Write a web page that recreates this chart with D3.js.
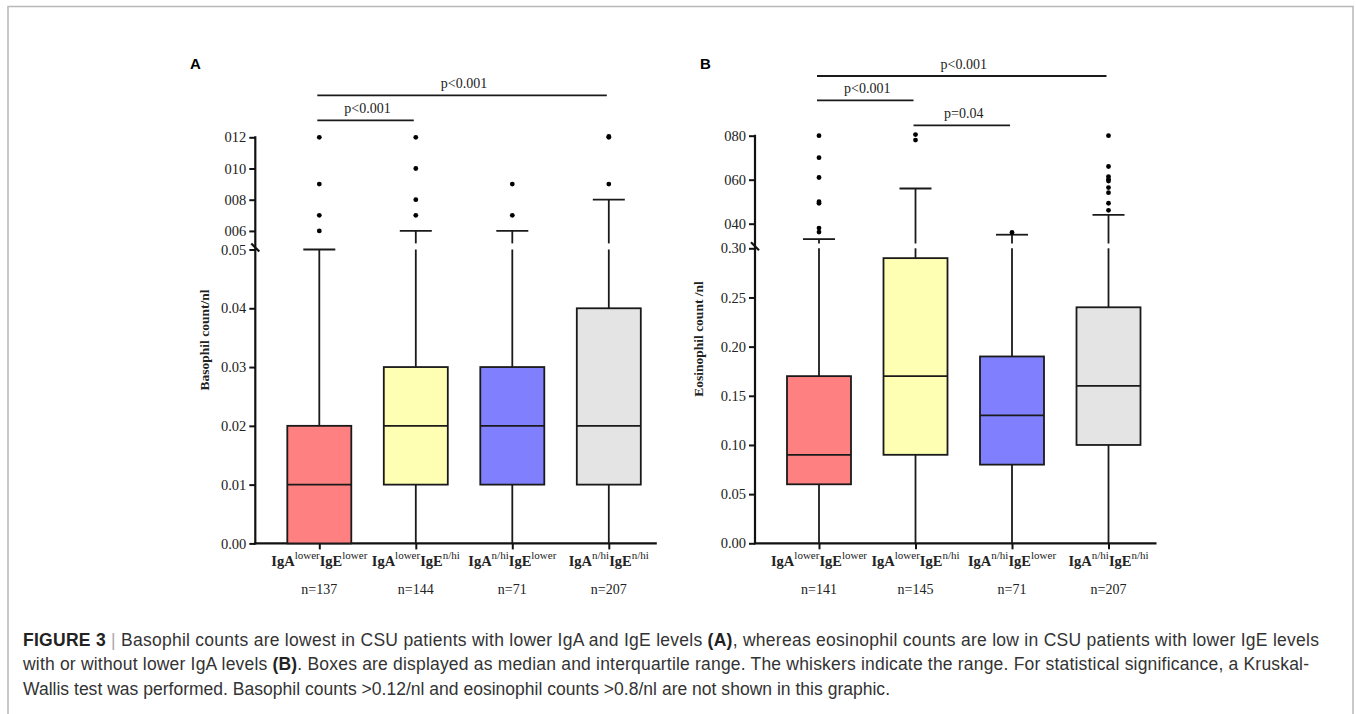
<!DOCTYPE html>
<html>
<head>
<meta charset="utf-8">
<script src="https://cdn.jsdelivr.net/npm/d3@7"></script>
<style>
  body { margin: 0; background: #fff; }
  svg { display: block; }
</style>
</head>
<body>
<div id="fig"></div>
<script>
// data

var groups = ['g1', 'g2', 'g3', 'g4'];
var igaSup = ['lower', 'lower', 'n/hi', 'n/hi'];
var igeSup = ['lower', 'n/hi', 'lower', 'n/hi'];
var boxColors = ['#ff8080', '#ffffb3', '#8080ff', '#e4e4e4'];

// panel A - basophils
var basoN = [137, 144, 71, 207];
var basoMin = [0, 0, 0, 0];
var basoQ1 = [0, 0.01, 0.01, 0.01];
var basoMed = [0.01, 0.02, 0.02, 0.02];
var basoQ3 = [0.02, 0.03, 0.03, 0.04];
var basoMax = [0.05, 0.06, 0.06, 0.08];
var basoOut = [
  [0.12, 0.09, 0.07, 0.06],
  [0.12, 0.10, 0.08, 0.07],
  [0.09, 0.07],
  [0.12, 0.1205, 0.09]
];
var basoLowTicks = [0, 0.01, 0.02, 0.03, 0.04, 0.05];
var basoHighTicks = [0.06, 0.08, 0.10, 0.12];
var basoHighLabels = ['006', '008', '010', '012'];
var basoSig = [
  { from: 0, to: 3, label: 'p<0.001' },
  { from: 0, to: 1, label: 'p<0.001' }
];

// panel B - eosinophils
var eosN = [141, 145, 71, 207];
var eosMin = [0, 0, 0, 0];
var eosQ1 = [0.06, 0.09, 0.08, 0.10];
var eosMed = [0.09, 0.17, 0.13, 0.16];
var eosQ3 = [0.17, 0.29, 0.19, 0.24];
var eosMax = [0.33, 0.56, 0.35, 0.44];
var eosOut = [
  [0.80, 0.70, 0.61, 0.50, 0.493, 0.38, 0.362],
  [0.805, 0.78],
  [0.36],
  [0.80, 0.66, 0.614, 0.602, 0.594, 0.564, 0.541, 0.493, 0.461]
];
var eosLowTicks = [0, 0.05, 0.10, 0.15, 0.20, 0.25, 0.30];
var eosHighTicks = [0.40, 0.60, 0.80];
var eosHighLabels = ['040', '060', '080'];
var eosSig = [
  { from: 0, to: 3, label: 'p<0.001' },
  { from: 0, to: 1, label: 'p<0.001' },
  { from: 1, to: 2, label: 'p=0.04' }
];

var width = 1356,
    height = 714;

var serif = '"Liberation Serif", "Times New Roman", serif';
var sans = '"Liberation Sans", Arial, Helvetica, sans-serif';

var svg = d3.select('#fig').append('svg')
    .attr('width', width)
    .attr('height', height);

// frame
svg.append('path')
    .attr('d', 'M8,714 L8,6.5 L1353,6.5 L1353,714')
    .attr('fill', 'none')
    .attr('stroke', '#b8b8b8')
    .attr('stroke-width', 1.5);

var drawPanel = function(p) {
  var g = svg.append('g');

  var x = d3.scalePoint().domain(groups).range([p.axisX + 64, p.axisX + 353.5]);
  var yLow = d3.scaleLinear().domain(p.lowDomain).range([p.y0, p.yBreakLow]);
  var yHigh = d3.scaleLinear().domain(p.highDomain).range([p.yBreakHigh, p.yTop]);
  var y = function(v) { return v <= p.lowDomain[1] ? yLow(v) : yHigh(v); };
  var boxW = 64, capW = 32;

  // panel letter
  g.append('text')
    .attr('x', p.letterX).attr('y', 69)
    .attr('font-family', sans).attr('font-weight', 'bold').attr('font-size', 15)
    .text(p.letter);

  // y axes, lower and upper part
  var axLow = g.append('g')
      .attr('transform', 'translate(' + p.axisX + ',0)')
      .call(d3.axisLeft(yLow).tickValues(p.lowTicks).tickFormat(d3.format('.2f')).tickSize(6).tickPadding(3));
  var axHigh = g.append('g')
      .attr('transform', 'translate(' + p.axisX + ',0)')
      .call(d3.axisLeft(yHigh).tickValues(p.highTicks)
        .tickFormat(function(d, i) { return p.highLabels[i]; }).tickSize(6).tickPadding(3));
  [axLow, axHigh].forEach(function(a) {
    a.select('.domain').remove();
    a.selectAll('line').attr('stroke', '#111').attr('stroke-width', 2);
    a.selectAll('text').attr('font-family', serif).attr('font-size', 14.5).attr('fill', '#222');
  });
  g.append('line')
    .attr('x1', p.axisX).attr('x2', p.axisX)
    .attr('y1', yHigh(p.highTicks[p.highTicks.length - 1]) - 1).attr('y2', p.y0 + 1)
    .attr('stroke', '#111').attr('stroke-width', 2.2);
  // break mark
  g.append('line')
    .attr('x1', p.axisX - 4).attr('y1', p.yBreakLow - 6)
    .attr('x2', p.axisX + 4).attr('y2', p.yBreakLow + 2)
    .attr('stroke', '#111').attr('stroke-width', 2.2);

  // x axis
  g.append('line')
    .attr('x1', p.axisX - 1).attr('x2', x(groups[3]) + 48)
    .attr('y1', p.y0).attr('y2', p.y0)
    .attr('stroke', '#111').attr('stroke-width', 2.2);
  var axX = g.append('g')
      .attr('transform', 'translate(0,' + p.y0 + ')')
      .call(d3.axisBottom(x).tickSize(6).tickFormat(''));
  axX.select('.domain').remove();
  axX.selectAll('line').attr('stroke', '#111').attr('stroke-width', 2);

  // y label
  g.append('text')
    .attr('transform', 'translate(' + p.labelX + ',' + p.labelY + ') rotate(-90)')
    .attr('text-anchor', 'middle')
    .attr('font-family', serif).attr('font-weight', 'bold').attr('font-size', 13.5)
    .attr('fill', '#222')
    .text(p.yLabel);

  // whiskers
  groups.forEach(function(k, i) {
    var cx = x(k);
    var stroke = function(sel) { return sel.attr('stroke', '#1a1a1a').attr('stroke-width', 1.8); };
    stroke(g.append('line').attr('x1', cx).attr('x2', cx)
      .attr('y1', y(p.min[i])).attr('y2', y(p.q1[i])));
    if (p.max[i] > p.lowDomain[1]) {
      stroke(g.append('line').attr('x1', cx).attr('x2', cx)
        .attr('y1', y(p.q3[i])).attr('y2', yLow(p.lowDomain[1])));
      stroke(g.append('line').attr('x1', cx).attr('x2', cx)
        .attr('y1', yHigh(p.highDomain[0])).attr('y2', y(p.max[i])));
    } else {
      stroke(g.append('line').attr('x1', cx).attr('x2', cx)
        .attr('y1', y(p.q3[i])).attr('y2', y(p.max[i])));
    }
    stroke(g.append('line').attr('x1', cx - capW / 2).attr('x2', cx + capW / 2)
      .attr('y1', y(p.max[i])).attr('y2', y(p.max[i])));

    // box
    g.append('rect')
      .attr('x', cx - boxW / 2).attr('width', boxW)
      .attr('y', y(p.q3[i])).attr('height', y(p.q1[i]) - y(p.q3[i]))
      .attr('fill', boxColors[i])
      .attr('stroke', '#1a1a1a').attr('stroke-width', 1.8);
    stroke(g.append('line').attr('x1', cx - boxW / 2).attr('x2', cx + boxW / 2)
      .attr('y1', y(p.med[i])).attr('y2', y(p.med[i])));

    // outliers
    g.selectAll(null).data(p.out[i]).enter().append('circle')
      .attr('cx', cx).attr('cy', function(d) { return y(d); })
      .attr('r', 2.4).attr('fill', '#000');

    // category label
    var t = g.append('text')
      .attr('x', cx).attr('y', 566)
      .attr('text-anchor', 'middle')
      .attr('font-family', serif).attr('fill', '#222');
    t.append('tspan').attr('font-weight', 'bold').attr('font-size', 14.5).text('IgA');
    t.append('tspan').attr('font-size', 11).attr('dy', -7).text(igaSup[i]);
    t.append('tspan').attr('font-weight', 'bold').attr('font-size', 14.5).attr('dy', 7).text('IgE');
    t.append('tspan').attr('font-size', 11).attr('dy', -7).text(igeSup[i]);

    g.append('text')
      .attr('x', cx).attr('y', 594)
      .attr('text-anchor', 'middle')
      .attr('font-family', serif).attr('font-size', 14).attr('fill', '#222')
      .text('n=' + p.n[i]);
  });

  // significance bars
  p.sig.forEach(function(s, j) {
    var ly = p.sigY[j];
    g.append('line')
      .attr('x1', x(groups[s.from]) - 2).attr('x2', x(groups[s.to]) - 2)
      .attr('y1', ly).attr('y2', ly)
      .attr('stroke', '#1a1a1a').attr('stroke-width', 1.8);
    g.append('text')
      .attr('x', (x(groups[s.from]) + x(groups[s.to])) / 2).attr('y', ly - 7)
      .attr('text-anchor', 'middle')
      .attr('font-family', serif).attr('font-size', 14).attr('fill', '#222')
      .text(s.label);
  });
};

drawPanel({
  letter: 'A', letterX: 190,
  axisX: 255.3, y0: 543.4, yBreakLow: 249.5, yBreakHigh: 243.4, yTop: 137.3,
  lowDomain: [0, 0.05], highDomain: [0.052, 0.12],
  lowTicks: basoLowTicks, highTicks: basoHighTicks, highLabels: basoHighLabels,
  labelX: 209, labelY: 340, yLabel: 'Basophil count/nl',
  n: basoN, min: basoMin, q1: basoQ1, med: basoMed, q3: basoQ3, max: basoMax, out: basoOut,
  sig: basoSig, sigY: [95.3, 120.3]
});

drawPanel({
  letter: 'B', letterX: 700,
  axisX: 755, y0: 543.3, yBreakLow: 248.3, yBreakHigh: 243.5, yTop: 135.7,
  lowDomain: [0, 0.30], highDomain: [0.31, 0.80],
  lowTicks: eosLowTicks, highTicks: eosHighTicks, highLabels: eosHighLabels,
  labelX: 703, labelY: 339, yLabel: 'Eosinophil count /nl',
  n: eosN, min: eosMin, q1: eosQ1, med: eosMed, q3: eosQ3, max: eosMax, out: eosOut,
  sig: eosSig, sigY: [76, 100.3, 125.3]
});

// caption
var captionLines = [
  [['b', 'FIGURE 3'], ['g', ' | '], ['', 'Basophil counts are lowest in CSU patients with lower IgA and IgE levels '], ['b', '(A)'],
   ['', ', whereas eosinophil counts are low in CSU patients with lower IgE levels']],
  [['', 'with or without lower IgA levels '], ['b', '(B)'],
   ['', '. Boxes are displayed as median and interquartile range. The whiskers indicate the range. For statistical significance, a Kruskal-']],
  [['', 'Wallis test was performed. Basophil counts >0.12/nl and eosinophil counts >0.8/nl are not shown in this graphic.']]
];
var captionWidths = [1296, 1286, 867];

captionLines.forEach(function(line, i) {
  var t = svg.append('text')
    .attr('x', 23).attr('y', 646 + i * 24.3)
    .attr('font-family', sans).attr('font-size', 17.5).attr('fill', '#333')
    .attr('textLength', captionWidths[i]).attr('lengthAdjust', 'spacing');
  line.forEach(function(part) {
    var s = t.append('tspan').text(part[1]);
    if (part[0] === 'b') s.attr('font-weight', 'bold').attr('fill', '#222');
    if (part[0] === 'g') s.attr('fill', '#aaa');
  });
});
</script>
</body>
</html>
